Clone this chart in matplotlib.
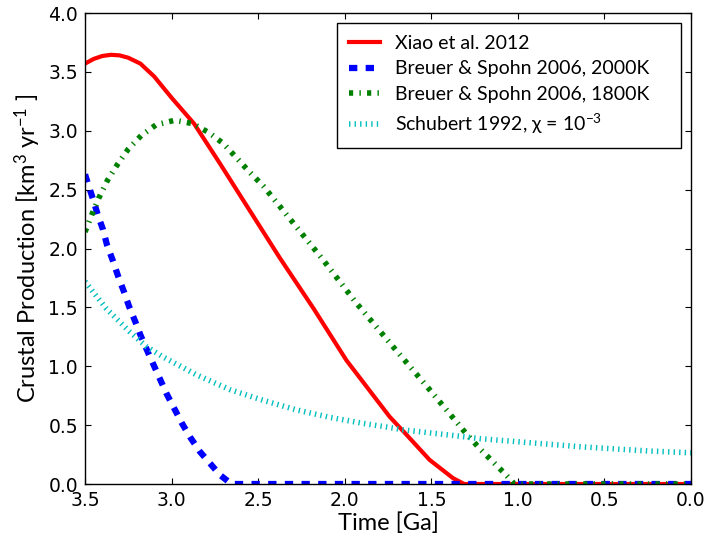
import numpy as np
import matplotlib
matplotlib.use('Agg')
import matplotlib.pyplot as plt

# values (time in Ga, production in km^3/yr)
xiao_t = [3.50, 3.45, 3.40, 3.35, 3.30, 3.25, 3.18, 3.10, 3.00, 2.87, 2.72, 2.565,
          2.375, 2.18, 1.99, 1.80, 1.74, 1.66, 1.51, 1.375, 1.31, 1.0, 0.5, 0.0]
xiao_y = [3.57, 3.61, 3.635, 3.645, 3.64, 3.62, 3.57, 3.46, 3.28, 3.06, 2.72, 2.36,
          1.92, 1.49, 1.05, 0.685, 0.57, 0.445, 0.205, 0.05, 0.0, 0.0, 0.0, 0.0]

b2000_t = [3.50, 3.483, 3.454, 3.425, 3.396, 3.373, 3.34, 3.31, 3.277, 3.246, 3.21,
           3.18, 3.134, 3.03, 2.94, 2.894, 2.836, 2.72, 2.654, 2.0, 1.0, 0.0]
b2000_y = [2.63, 2.55, 2.42, 2.28, 2.16, 2.03, 1.90, 1.77, 1.64, 1.51, 1.38,
           1.265, 1.11, 0.77, 0.515, 0.40, 0.274, 0.076, 0.0, 0.0, 0.0, 0.0]

b1800_t = [3.50, 3.46, 3.42, 3.37, 3.31, 3.25, 3.175, 3.09, 2.98, 2.877, 2.78, 2.70,
           2.55, 2.47, 2.20, 2.134, 1.932, 1.721, 1.509, 1.30, 1.22, 1.077, 1.02, 0.5, 0.0]
b1800_y = [2.14, 2.29, 2.43, 2.58, 2.72, 2.845, 2.96, 3.05, 3.09, 3.06, 2.98, 2.89,
           2.65, 2.53, 2.04, 1.92, 1.535, 1.166, 0.80, 0.43, 0.30, 0.09, 0.0, 0.0, 0.0]

schub_t = [3.50, 3.49, 3.377, 3.24, 3.144, 3.05, 2.855, 2.66, 2.47, 2.28, 2.086,
           1.894, 1.74, 1.663, 1.36, 1.22, 1.01, 0.625, 0.24, 0.0]
schub_y = [1.72, 1.70, 1.49, 1.29, 1.166, 1.08, 0.926, 0.80, 0.71, 0.63, 0.566,
           0.515, 0.48, 0.46, 0.41, 0.385, 0.36, 0.315, 0.28, 0.265]

labels = ['Xiao et al. 2012', 'Breuer & Spohn 2006, 2000K',
          'Breuer & Spohn 2006, 1800K', r'Schubert 1992, χ = 10$^{-3}$']

plt.rcParams['lines.scale_dashes'] = False
plt.rcParams['mathtext.fontset'] = 'custom'
plt.rcParams['mathtext.rm'] = 'Lato'
plt.rcParams['mathtext.it'] = 'Lato:italic'

txt_font = ['Lato', 'DejaVu Sans']

fig = plt.figure(figsize=(7.05, 5.42), dpi=100)
ax = fig.add_axes([0.1206, 0.107, 0.8596, 0.869])

ax.plot(xiao_t, xiao_y, color='red', lw=3, label=labels[0])
ax.plot(b2000_t, b2000_y, color='blue', lw=4.5, dashes=(6, 6), label=labels[1])
ax.plot(b1800_t, b1800_y, color='green', lw=4, dashes=(3, 4.5, 1, 4.5), label=labels[2])
ax.plot(schub_t, schub_y, color='c', lw=4, dashes=(1, 3), label=labels[3])

ax.set_xlim(3.5, 0.0)
ax.set_ylim(0, 4.0)
ax.set_xticks(np.arange(0, 3.51, 0.5))
ax.set_yticks(np.arange(0, 4.01, 0.5))
ax.xaxis.set_major_formatter(matplotlib.ticker.FormatStrFormatter('%.1f'))
ax.yaxis.set_major_formatter(matplotlib.ticker.FormatStrFormatter('%.1f'))
ax.tick_params(direction='in', top=True, right=True, length=4, width=0.8,
               labelsize=13.5, pad=5)
for s in ax.spines.values():
    s.set_linewidth(1.0)

ax.set_xlabel('Time [Ga]', family=txt_font, fontsize=17, labelpad=2)
ax.set_ylabel(r'Crustal Production [km$^3$ yr$^{-1}$ ]', family=txt_font,
              fontsize=17, labelpad=4)

# legend box stretched to the same width as in the reference
leg = ax.legend(loc='upper left', bbox_to_anchor=(0.4158, 0.0, 0.5677, 0.979),
                mode='expand', borderaxespad=0,
                fancybox=False, framealpha=1, edgecolor='black',
                prop={'family': txt_font, 'size': 14}, handlelength=1.6,
                handletextpad=0.8, labelspacing=0.45, borderpad=0.6)
leg.get_frame().set_linewidth(1.0)

fig.savefig('out.png', dpi=100)
